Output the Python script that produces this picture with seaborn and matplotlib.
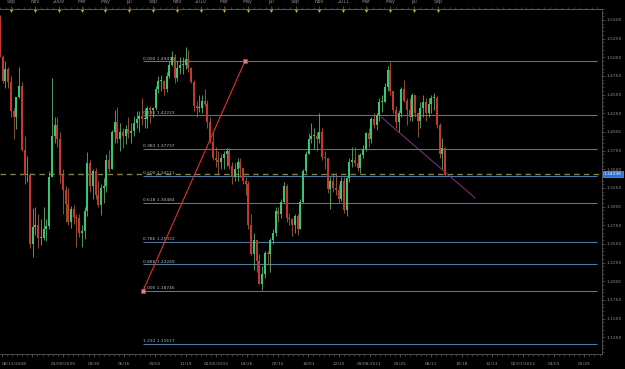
import numpy as np
import pandas as pd
import matplotlib
matplotlib.use("Agg")
import matplotlib.pyplot as plt
import matplotlib.transforms as mtrans
from matplotlib.ticker import MultipleLocator, FixedLocator
import seaborn as sns

# ---------------- data (weekly bars) ----------------
start_date = "2008-08-04"
open_first = 1.554
close = [1.501, 1.468, 1.485, 1.467, 1.428, 1.420, 1.447, 1.462, 1.376, 1.342,
         1.343, 1.250, 1.273, 1.275, 1.258, 1.258, 1.270, 1.274, 1.340, 1.394,
         1.410, 1.390, 1.343, 1.322, 1.304, 1.280, 1.297, 1.286, 1.285, 1.265,
         1.267, 1.294, 1.358, 1.328, 1.348, 1.316, 1.302, 1.325, 1.328, 1.363,
         1.350, 1.400, 1.414, 1.390, 1.400, 1.395, 1.404, 1.398, 1.401, 1.412,
         1.418, 1.421, 1.418, 1.418, 1.432, 1.430, 1.432, 1.457, 1.468, 1.468,
         1.457, 1.475, 1.490, 1.500, 1.472, 1.486, 1.490, 1.490, 1.498, 1.486,
         1.467, 1.435, 1.432, 1.432, 1.441, 1.438, 1.413, 1.387, 1.365, 1.363,
         1.360, 1.365, 1.370, 1.374, 1.355, 1.340, 1.350, 1.360, 1.352, 1.335,
         1.330, 1.275, 1.237, 1.255, 1.227, 1.197, 1.210, 1.238, 1.237, 1.255,
         1.265, 1.294, 1.290, 1.306, 1.328, 1.285, 1.283, 1.275, 1.288, 1.270,
         1.306, 1.348, 1.370, 1.390, 1.395, 1.395, 1.390, 1.400, 1.367, 1.365,
         1.323, 1.335, 1.325, 1.322, 1.310, 1.335, 1.295, 1.338, 1.360, 1.362,
         1.358, 1.352, 1.369, 1.377, 1.398, 1.390, 1.418, 1.410, 1.423, 1.440,
         1.440, 1.460, 1.483, 1.455, 1.430, 1.414, 1.425, 1.457, 1.442, 1.430,
         1.420, 1.450, 1.425, 1.415, 1.432, 1.440, 1.425, 1.438, 1.445, 1.445,
         1.410, 1.370, 1.378, 1.343]
high = [1.557, 1.503, 1.495, 1.487, 1.475, 1.432, 1.447, 1.487, 1.467, 1.395,
        1.368, 1.345, 1.298, 1.299, 1.290, 1.283, 1.299, 1.283, 1.348, 1.472,
        1.420, 1.420, 1.400, 1.350, 1.328, 1.325, 1.301, 1.302, 1.290, 1.290,
        1.275, 1.300, 1.373, 1.362, 1.350, 1.352, 1.335, 1.330, 1.338, 1.370,
        1.376, 1.403, 1.430, 1.433, 1.412, 1.405, 1.410, 1.420, 1.412, 1.422,
        1.428, 1.428, 1.445, 1.432, 1.435, 1.435, 1.434, 1.462, 1.475, 1.476,
        1.470, 1.480, 1.495, 1.508, 1.505, 1.495, 1.500, 1.500, 1.514, 1.510,
        1.487, 1.470, 1.442, 1.450, 1.450, 1.457, 1.443, 1.420, 1.400, 1.380,
        1.375, 1.370, 1.375, 1.378, 1.378, 1.360, 1.358, 1.365, 1.365, 1.352,
        1.340, 1.335, 1.290, 1.265, 1.255, 1.237, 1.220, 1.240, 1.240, 1.258,
        1.270, 1.300, 1.300, 1.310, 1.333, 1.330, 1.292, 1.285, 1.290, 1.290,
        1.310, 1.350, 1.375, 1.398, 1.412, 1.405, 1.400, 1.425, 1.405, 1.375,
        1.365, 1.340, 1.345, 1.345, 1.330, 1.340, 1.340, 1.340, 1.365, 1.380,
        1.380, 1.370, 1.372, 1.382, 1.400, 1.405, 1.420, 1.425, 1.425, 1.445,
        1.450, 1.465, 1.488, 1.494, 1.455, 1.435, 1.430, 1.460, 1.470, 1.445,
        1.445, 1.452, 1.450, 1.425, 1.440, 1.450, 1.445, 1.445, 1.450, 1.452,
        1.448, 1.412, 1.392, 1.380]
low = [1.500, 1.466, 1.459, 1.459, 1.420, 1.390, 1.404, 1.445, 1.375, 1.330,
       1.333, 1.245, 1.233, 1.262, 1.245, 1.248, 1.255, 1.254, 1.270, 1.340,
       1.385, 1.380, 1.332, 1.290, 1.280, 1.276, 1.271, 1.277, 1.246, 1.259,
       1.246, 1.256, 1.287, 1.320, 1.310, 1.310, 1.300, 1.289, 1.305, 1.320,
       1.347, 1.350, 1.385, 1.385, 1.375, 1.378, 1.384, 1.392, 1.385, 1.395,
       1.405, 1.400, 1.410, 1.405, 1.405, 1.412, 1.420, 1.430, 1.452, 1.455,
       1.450, 1.453, 1.472, 1.488, 1.465, 1.468, 1.478, 1.478, 1.485, 1.480,
       1.465, 1.428, 1.420, 1.427, 1.425, 1.435, 1.405, 1.385, 1.362, 1.353,
       1.344, 1.350, 1.350, 1.355, 1.350, 1.330, 1.335, 1.335, 1.340, 1.330,
       1.315, 1.270, 1.235, 1.215, 1.213, 1.196, 1.188, 1.205, 1.222, 1.212,
       1.250, 1.260, 1.280, 1.285, 1.305, 1.280, 1.275, 1.260, 1.265, 1.262,
       1.270, 1.305, 1.345, 1.370, 1.385, 1.377, 1.375, 1.385, 1.362, 1.350,
       1.318, 1.297, 1.320, 1.315, 1.305, 1.307, 1.292, 1.287, 1.333, 1.353,
       1.355, 1.348, 1.345, 1.365, 1.375, 1.380, 1.385, 1.405, 1.402, 1.415,
       1.427, 1.440, 1.455, 1.450, 1.425, 1.405, 1.400, 1.420, 1.440, 1.410,
       1.415, 1.415, 1.420, 1.393, 1.405, 1.420, 1.415, 1.420, 1.425, 1.430,
       1.405, 1.365, 1.350, 1.343]

fib_ratios = ["0.000", "0.236", "0.382", "0.500", "0.618", "0.786", "0.886", "1.000", "1.232"]
fib_prices = [1.49475, 1.42223, 1.37737, 1.34111, 1.30484, 1.25322, 1.22249, 1.18746, 1.11617]
current_price = 1.34338

# drawn objects (anchor points, in weeks since start and price)
fib_anchor_weeks = [52.4, 89.7]
fib_anchor_prices = [1.18746, 1.49475]
trend_weeks = [139.6, 174.0]
trend_prices = [1.4201, 1.3116]

bottom_labels = ["08/31/2008", "", "01/09/2009", "03/30", "06/16", "09/02", "11/19",
                 "02/05/2010", "04/26", "07/15", "10/01", "12/20", "03/08/2011",
                 "05/25", "08/11", "10/18", "12/13", "02/07/2012", "04/03", "05/29"]
right_ticks = [1.125, 1.15, 1.175, 1.2, 1.225, 1.25, 1.275, 1.3, 1.325, 1.35,
               1.375, 1.4, 1.425, 1.45, 1.475, 1.5, 1.525, 1.55]

# ---------------- styling ----------------
sns.set_theme(style="dark", rc={"axes.facecolor": "black", "figure.facecolor": "black"})
plt.rcParams["font.family"] = ["DejaVu Sans"]

BG = "black"
TXT = "#8e8e8e"
UP = "#34c872"
DOWN = "#c8372d"
WICK_UP = "#5fae6a"
WICK_DOWN = "#a0623a"
FIBC = "#4f7ca3"

fig = plt.figure(figsize=(6.25, 3.69), dpi=100, facecolor=BG)
ax = fig.add_axes([0, 15 / 369, 602 / 625, 345.5 / 369])
ax.set_facecolor(BG)

n = len(close)
opens = [open_first] + close[:-1]
df = pd.DataFrame({"week": np.arange(n), "open": opens, "high": high,
                   "low": low, "close": close})
df["up"] = df["close"] >= df["open"]
cols = np.where(df["up"], UP, DOWN)
wcols = np.where(df["up"], WICK_UP, WICK_DOWN)
ax.vlines(df["week"], df["low"], df["high"], colors=wcols, lw=0.6, zorder=3)
bot = np.minimum(df["open"], df["close"])
top = np.maximum(df["open"], df["close"])
top = np.maximum(top, bot + 0.0012)
ax.vlines(df["week"], bot, top, colors=cols, lw=1.45, zorder=3)

XMAX = 220.5
ax.set_xlim(0, XMAX)
ax.set_ylim(1.1026, 1.5654)

# fibonacci levels
fib_end = 218.6
for r, p in zip(fib_ratios, fib_prices):
    ax.hlines(p, fib_anchor_weeks[0], fib_end, color=FIBC, lw=0.75, zorder=2, snap=True)
    ax.text(fib_anchor_weeks[0], p + 0.0009, f"{r} {p:.5f}", fontsize=3.2,
            color="#b5b5b5", ha="left", va="bottom", zorder=4)

# current price dashed line
ax.axhline(current_price, color="#80804a", lw=1.0, ls=(0, (4, 3)), zorder=2)

# fib anchor line (red) and trend line (purple)
anc = pd.DataFrame({"w": fib_anchor_weeks, "p": fib_anchor_prices})
sns.lineplot(data=anc, x="w", y="p", ax=ax, color="#e0302c", lw=0.8, zorder=5)
sns.scatterplot(data=anc, x="w", y="p", ax=ax, marker="s", s=7, color="#e88080",
                edgecolor="#e0302c", linewidth=0.5, zorder=6)
tr = pd.DataFrame({"w": trend_weeks, "p": trend_prices})
sns.lineplot(data=tr, x="w", y="p", ax=ax, color="#8a2f8a", lw=0.7, zorder=5)
ax.set_xlabel("")
ax.set_ylabel("")

# right axis
ax.yaxis.tick_right()
ax.set_yticks(right_ticks)
ax.set_yticklabels([f"{v:.4f}" for v in right_ticks])
ax.yaxis.set_minor_locator(MultipleLocator(0.005))
ax.tick_params(axis="y", which="major", direction="out", length=2.5, width=0.5,
               colors="#666666", labelcolor=TXT, labelsize=3.2, pad=1)
ax.tick_params(axis="y", which="minor", direction="out", length=1.2, width=0.4,
               colors="#666666")

# current price tag
ax.text(1.003, current_price, "1.34338", transform=mtrans.blended_transform_factory(ax.transAxes, ax.transData),
        ha="left", va="center", fontsize=3.2, color="white", zorder=10, clip_on=False,
        bbox=dict(boxstyle="square,pad=0.25", fc="#2a6fd6", ec="#8fbcff", lw=0.4))

# bottom axis
step = 11.23
bpos = [0.62 + step * k for k in range(len(bottom_labels))]
ax.set_xticks(bpos)
ax.set_xticklabels(bottom_labels)
ax.xaxis.set_minor_locator(FixedLocator([0.62 + step * k / 6 for k in range(6 * len(bottom_labels) + 6)]))
ax.tick_params(axis="x", which="major", direction="out", length=2.5, width=0.5,
               colors="#666666", labelcolor=TXT, labelsize=3.2, pad=3)
ax.tick_params(axis="x", which="minor", direction="out", length=1.2, width=0.4,
               colors="#666666")
ax.get_xticklabels()[0].set_horizontalalignment("left")

for s in ["top", "bottom", "right"]:
    ax.spines[s].set_visible(True)
    ax.spines[s].set_color("#5a5a5a")
    ax.spines[s].set_linewidth(0.6)
ax.spines["left"].set_visible(False)
ax.grid(False)

# top axis with month labels
months = pd.date_range("2008-09-01", "2011-09-01", freq="2MS")
t0 = pd.Timestamp(start_date)
mpos = [(d - t0).days / 7 for d in months]
mlab = [str(d.year) if d.month == 1 else d.strftime("%b") for d in months]
axt = ax.twiny()
axt.set_xlim(0, XMAX)
axt.set_xticks(mpos)
axt.set_xticklabels(mlab)
axt.xaxis.set_minor_locator(MultipleLocator(52 / 24))
axt.tick_params(axis="x", which="major", direction="out", length=2.5, width=0.5,
                colors="#666666", labelcolor=TXT, labelsize=3.4, pad=1)
axt.tick_params(axis="x", which="minor", direction="out", length=1.2, width=0.4,
                colors="#666666")
for s in ["left", "right", "bottom"]:
    axt.spines[s].set_visible(False)
axt.spines["top"].set_color("#5a5a5a")
axt.spines["top"].set_linewidth(0.6)
axt.grid(False)
axt.patch.set_visible(False)
tri_tr = mtrans.blended_transform_factory(axt.transData, axt.transAxes)
axt.scatter(mpos, [0.994] * len(mpos), marker="v", s=5, color="#d6a52c",
            transform=tri_tr, clip_on=False, zorder=10, linewidths=0)

fig.savefig("out.png", dpi=100, facecolor=BG)
